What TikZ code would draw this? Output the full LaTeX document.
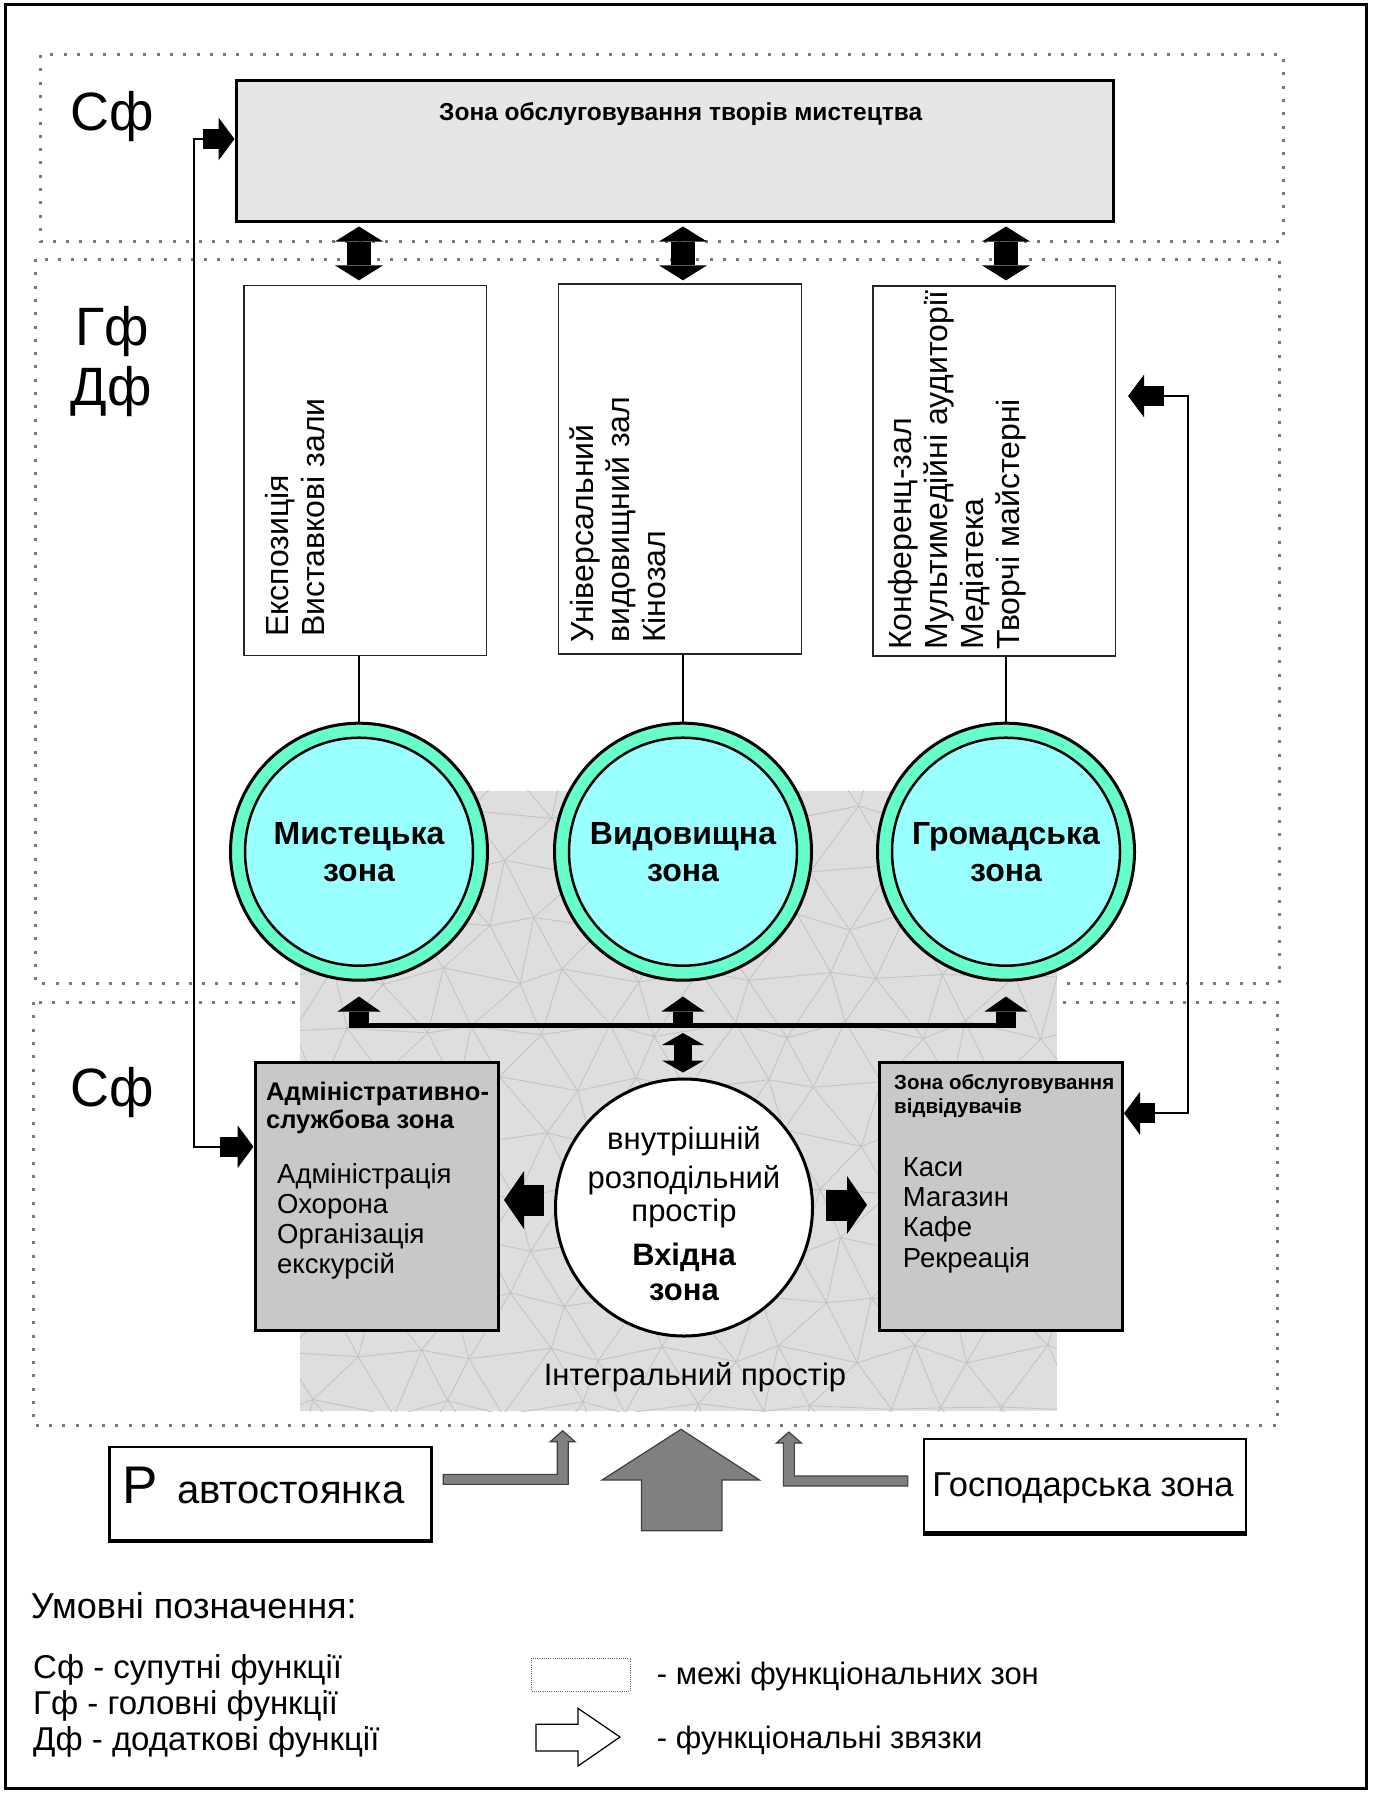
\documentclass[tikz,border=0pt]{standalone}
\usepackage{fontspec}
\setmainfont{Liberation Sans}
\usetikzlibrary{arrows.meta,calc}
\definecolor{ringc}{HTML}{66FFCC}
\definecolor{innerc}{HTML}{99FFFF}
\definecolor{topfill}{HTML}{E6E6E6}
\definecolor{boxfill}{HTML}{C8C8C8}
\definecolor{intfill}{HTML}{DEDEDE}
\definecolor{meshc}{HTML}{C4C4C4}
\definecolor{zonec}{HTML}{7A7A7A}
\definecolor{arrgray}{HTML}{808080}
\newcommand{\fsz}[2]{\fontsize{#1}{#2}\selectfont}
\begin{document}
\begin{tikzpicture}[x=1pt,y=-1pt,
  zone/.style={draw=zonec, line width=3pt, dash pattern=on 3pt off 10.3pt},
  lbl/.style={anchor=base west, inner sep=0, font=\fsz{54}{60}},
  txt/.style={inner sep=0},
  topbox/.style={draw=black, line width=3pt, fill=topfill, minimum width=877pt, minimum height=141.7pt, inner sep=0},
  tallbox/.style={draw=black!85, line width=1.3pt, fill=white, minimum width=242.5pt, minimum height=370pt, inner sep=0},
  vtxt/.style={rotate=90, anchor=north west, align=left, inner sep=0, font=\fsz{32}{36}},
  ring/.style={circle, draw=black, line width=3pt, fill=ringc, minimum size=257pt, inner sep=0},
  core/.style={circle, draw=black, line width=2.5pt, fill=innerc, minimum size=228pt, inner sep=0, align=center, font=\bfseries\fsz{32}{37}},
  entry/.style={circle, draw=black, line width=3pt, fill=white, minimum size=257pt, inner sep=0},
  etxt/.style={anchor=base, inner sep=0, font=\fsz{31}{36}},
  ebold/.style={anchor=base, inner sep=0, font=\bfseries\fsz{31}{36}},
  graybox/.style={draw=black, line width=3pt, fill=boxfill, minimum width=243pt, minimum height=268pt, inner sep=0},
  hdr/.style={anchor=base west, inner sep=0, font=\bfseries\fsz{25.5}{28}},
  hdrs/.style={anchor=base west, inner sep=0, font=\bfseries\fsz{20.5}{24}},
  listtxt/.style={anchor=base west, inner sep=0, font=\fsz{27.5}{30}},
  botbox/.style={draw=black, line width=2.5pt, fill=white, minimum width=322pt, minimum height=93pt, inner sep=0},
  legtxt/.style={anchor=base west, inner sep=0, font=\fsz{33}{36}},
  legtxtr/.style={anchor=base west, inner sep=0, font=\fsz{31}{36}},
  mesh/.style={draw=meshc, line width=0.9pt},
  thinl/.style={draw=black, line width=1.8pt},
  dbl/.style={line width=24pt, {Triangle[width=48pt,length=15pt,line width=0pt]}-{Triangle[width=48pt,length=15pt,line width=0pt]}},
  dblsm/.style={line width=18pt, {Triangle[width=42pt,length=12pt,line width=0pt]}-{Triangle[width=42pt,length=12pt,line width=0pt]}},
  busup/.style={line width=20pt, -{Triangle[width=43pt,length=15pt,line width=0pt]}},
  side/.style={line width=31pt, -{Triangle[width=58pt,length=20pt,line width=0pt]}},
  conarr/.style={line width=20pt, -{Triangle[width=43pt,length=16pt,line width=0pt]}},
  garr/.style={fill=arrgray, draw=black!75, line width=1.2pt, line join=miter},
]
\useasboundingbox (0,0) rectangle (1373,1793);
\draw[line width=3pt] (5,5) rectangle (1366.5,1788);

% functional zones
\draw[zone] (40,55) rectangle (1283,241.7);
\draw[zone] (35,259) rectangle (1279,983);
\draw[zone] (33,1002) rectangle (1277,1425);

% integral space with mosaic
\fill[intfill] (300,790.7) rectangle (1057,1411);
\begin{scope}
\clip (300,790.7) rectangle (1057,1411);
\foreach \i in {0,...,14}{\foreach \j in {0,...,13}{
  \pgfmathsetmacro\px{262+\i*62+mod(\j,2)*31+11*sin(137*\i+251*\j)}
  \pgfmathsetmacro\py{760+\j*54+9*cos(173*\i+89*\j)}
  \coordinate (m-\i-\j) at (\px,\py);
}}
\foreach \i in {0,...,14}{\foreach \j in {0,...,13}{
  \pgfmathtruncatemacro\ip{\i+1}
  \pgfmathtruncatemacro\im{\i-1}
  \pgfmathtruncatemacro\jp{\j+1}
  \ifnum\i<14 \draw[mesh] (m-\i-\j) -- (m-\ip-\j);\fi
  \ifnum\j<13 \draw[mesh] (m-\i-\j) -- (m-\i-\jp);
    \ifodd\j \ifnum\i<14 \draw[mesh] (m-\i-\j) -- (m-\ip-\jp);\fi
    \else \ifnum\i>0 \draw[mesh] (m-\i-\j) -- (m-\im-\jp);\fi
    \fi
  \fi
}}
\end{scope}
\node[txt, anchor=base, font=\fsz{31}{36}] (integ) at (695,1385) {Інтегральний простір};

% side labels
\node[lbl] (sf1) at (70,130) {Сф};
\node[lbl] (gf) at (75,345) {Гф};
\node[lbl] (df) at (70.7,405) {Дф};
\node[lbl] (sf2) at (70,1106) {Сф};

% top box
\node[topbox] (top) at (674.5,150.85) {};
\node[txt, anchor=base west, font=\bfseries\fsz{24.5}{28}] (toptxt) at (439,120) {Зона обслуговування творів мистецтва};

% tall boxes
\node[tallbox] (b1) at (365.2,470.7) {};
\node[tallbox] (b2) at (680,469) {};
\node[tallbox] (b3) at (994.2,471) {};
\node[vtxt] (t1) at (265,637) {Експозиція\\Виставкові зали};
\node[vtxt] (t2) at (570,643) {Універсальний\\видовищний зал\\Кінозал};
\node[vtxt] (t3) at (888,650) {Конференц-зал\\Мультимедійні аудиторії\\Медіатека\\Творчі майстерні};

% circles
\node[ring] (c1) at (359,851.7) {};
\node[core] (k1) at (c1) {Мистецька\\зона};
\node[ring] (c2) at (683,851.7) {};
\node[core] (k2) at (c2) {Видовищна\\зона};
\node[ring] (c3) at (1006,851.7) {};
\node[core] (k3) at (c3) {Громадська\\зона};

\draw[line width=1.3pt] (b1.south -| c1) -- (c1.north);
\draw[line width=1.3pt] (b2.south -| c2) -- (c2.north);
\draw[line width=1.3pt] (b3.south -| c3) -- (c3.north);

% double arrows top box <-> halls
\draw[dbl] ($(top.south -| c1)+(0,3.3)$) -- ($(b1.north -| c1)+(0,-4.7)$);
\draw[dbl] ($(top.south -| c2)+(0,3.3)$) -- ($(b2.north -| c2)+(0,-3)$);
\draw[dbl] ($(top.south -| c3)+(0,3.3)$) -- ($(b3.north -| c3)+(0,-5)$);

% bus
\coordinate (busy) at (0,1025);
\draw[line width=5pt] ($(c1.south |- busy)+(-10,0)$) -- ($(c3.south |- busy)+(10,0)$);
\draw[busup] ($(c1.south |- busy)+(0,2.5)$) -- ($(c1.south)+(0,14.8)$);
\draw[busup] ($(c2.south |- busy)+(0,2.5)$) -- ($(c2.south)+(0,14.8)$);
\draw[busup] ($(c3.south |- busy)+(0,2.5)$) -- ($(c3.south)+(0,14.8)$);

% entry zone
\node[entry] (en) at (684,1207.5) {};
\draw[dblsm] ($(busy -| c2)+(0,8)$) -- ($(en.north -| c2)+(0,-5)$);
\node[etxt] (e1) at (684,1149) {внутрішній};
\node[etxt] (e2) at (684,1188) {розподільний};
\node[etxt] (e3) at (684,1221) {простір};
\node[ebold] (e4) at (684,1265) {Вхідна};
\node[ebold] (e5) at (684,1300) {зона};

% side boxes
\node[graybox] (adm) at (376.5,1196) {};
\node[graybox] (srv) at (1001,1196.5) {};
\node[hdr] (ah1) at (266,1100) {Адміністративно-};
\node[hdr] (ah2) at (266,1128) {службова зона};
\foreach \t/\yy [count=\n] in {Адміністрація/1183, Охорона/1213, Організація/1243, екскурсій/1273}
  \node[listtxt] (al\n) at (277,\yy) {\t};
\node[hdrs] (sh1) at (894,1089.3) {Зона обслуговування};
\node[hdrs] (sh2) at (894,1113.3) {відвідувачів};
\foreach \t/\yy [count=\n] in {Каси/1176.7, Магазин/1206.7, Кафе/1236.7, Рекреація/1267}
  \node[listtxt] (sl\n) at (902.7,\yy) {\t};

% arrows from entry zone
\draw[side] ($(en.west)+(-10,-7.5)$) -- ($(en.west)+(-50,-7.5)$);
\draw[side] ($(en.east)+(12,-2.5)$) -- ($(en.east)+(53,-2.5)$);

% left connector
\coordinate (ly1) at (0,139);
\coordinate (ly2) at (0,1146.7);
\draw[thinl] ($(top.west |- ly1)+(-32,0)$) -- ++(-8.3,0) |- ($(adm.west |- ly2)+(-33.5,0)$);
\draw[conarr] ($(top.west |- ly1)+(-32,0)$) -- (top.west |- ly1);
\draw[conarr] ($(adm.west |- ly2)+(-33.5,0)$) -- (adm.west |- ly2);

% right connector
\coordinate (ry1) at (0,396);
\coordinate (ry2) at (0,1113.3);
\draw[thinl] ($(srv.east |- ry2)+(30.7,0)$) -- ++(33,0) |- ($(b3.east |- ry1)+(48,0)$);
\draw[conarr] ($(srv.east |- ry2)+(30.7,0)$) -- (srv.east |- ry2);
\draw[conarr] ($(b3.east |- ry1)+(48,0)$) -- ($(b3.east |- ry1)+(12,0)$);

% bottom boxes
\node[botbox] (park) at (270.6,1493.35) {};
\draw[line width=4.5pt] (park.south west) -- (park.south east);
\node[txt, anchor=base west, font=\fsz{53}{60}] (pl) at (122.6,1503.3) {Р};
\node[txt, anchor=base west, font=\fsz{40}{44}] (plt) at (177,1503) {автостоянка};
\node[botbox] (gosp) at (1084.9,1485.5) {};
\draw[line width=4.5pt] (gosp.south west) -- (gosp.south east);
\node[txt, anchor=base, font=\fsz{34.5}{40}] (gt) at (1083,1496) {Господарська зона};

% gray arrows
\coordinate (bigtip) at (681,1429.3);
\draw[garr] (bigtip) -- ++(78.5,50.7) -- ++(-37.6,0) -- ++(0,50.7) -- ++(-80.4,0) -- ++(0,-50.7) -- ++(-39.5,0) -- cycle;
\draw[garr] ($(park.east)+(10.3,-19)$) -- ++(114,0) -- ++(0,-32.6) -- ++(-7,0) -- ++(12.5,-11) -- ++(12.5,11) -- ++(-7,0) -- ++(0,42.6) -- ++(-125,0) -- cycle;
\draw[garr] ($(gosp.west)+(-14.8,-9.5)$) -- ++(-113.5,0) -- ++(0,-33) -- ++(7,0) -- ++(-12.5,-11) -- ++(-12.5,11) -- ++(7,0) -- ++(0,43) -- ++(124.5,0) -- cycle;

% legend
\node[txt, anchor=base west, font=\fsz{36}{40}] (leg) at (30.7,1618) {Умовні позначення:};
\node[legtxt] (lg1) at (33,1678) {Сф - супутні функції};
\node[legtxt] (lg2) at (33,1714) {Гф - головні функції};
\node[legtxt] (lg3) at (33,1750) {Дф - додаткові функції};
\node[draw=black!60, line width=1pt, dash pattern=on 1pt off 1.2pt, minimum width=99pt, minimum height=33pt, inner sep=0] (lz) at (581,1674.5) {};
\coordinate (la) at (536,1724.3);
\draw[line width=1.2pt, fill=white, line join=miter] (la) -- ++(42,0) -- ++(0,-16) -- ++(42,28.7) -- ++(-42,29) -- ++(0,-15) -- ++(-42,0) -- cycle;
\node[legtxtr] (lt1) at (656.7,1684) {- межі функціональних зон};
\node[legtxtr] (lt2) at (656.7,1748) {- функціональні звязки};
\end{tikzpicture}
\end{document}
